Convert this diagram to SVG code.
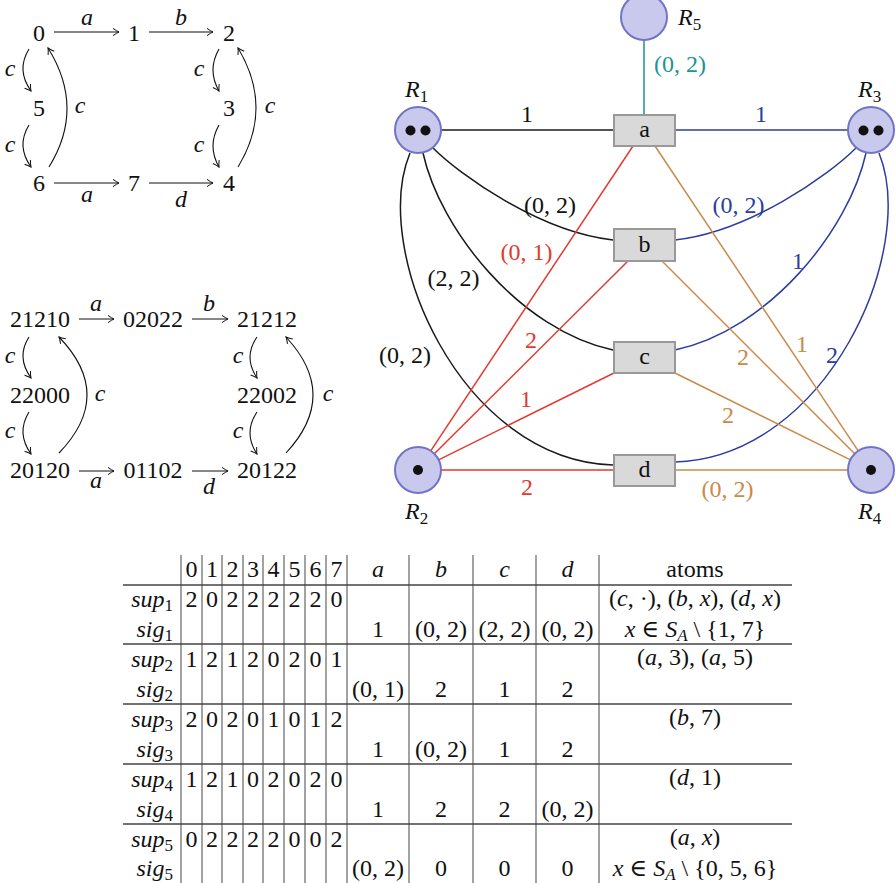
<svg xmlns="http://www.w3.org/2000/svg" width="896" height="883" viewBox="0 0 896 883">
<style>
text{font-family:"Liberation Serif","DejaVu Serif",serif;font-size:24px;fill:#111;text-anchor:middle}
.i{font-style:italic}
.s{font-size:17px}
.ar{fill:none;stroke:#111;stroke-width:1.1}
.nd{fill:#c9c9ee;stroke:#7373c6;stroke-width:2}
.bx{fill:#d9d9d9;stroke:#999;stroke-width:2}
.e{fill:none;stroke-width:1.5}
.k{stroke:#1a1a1a}.r{stroke:#e3392f}.b{stroke:#2c3d9d}.o{stroke:#c98a4a}.t{stroke:#1a9595}
.kr{fill:#e3392f}.kb{fill:#2c3d9d}.ko{fill:#c98a4a}.kt{fill:#1a9595}
.vl{stroke:#666;stroke-width:1.2}
.hl{stroke:#444;stroke-width:1.3}
</style>
<defs>
<marker id="ah" viewBox="-8 -5 10 10" refX="0" refY="0" markerWidth="10" markerHeight="10" markerUnits="userSpaceOnUse" orient="auto">
<path d="M-6,-3.6 Q-2,-0.8 0,0 Q-2,0.8 -6,3.6" fill="none" stroke="#111" stroke-width="1"/>
</marker>
</defs>

<!-- Top-left graph -->
<g id="g1-nodes">
<g id="n0"><text x="39" y="40.5">0</text></g>
<g id="n1"><text x="134" y="40.5">1</text></g>
<g id="n2"><text x="229" y="40.5">2</text></g>
<g id="n5"><text x="39" y="116">5</text></g>
<g id="n3"><text x="229" y="116">3</text></g>
<g id="n6"><text x="39" y="190.5">6</text></g>
<g id="n7"><text x="134" y="190.5">7</text></g>
<g id="n4"><text x="229" y="190.5">4</text></g>
</g>
<g id="g1-edges">
<path class="ar" d="M54,32 H119" marker-end="url(#ah)"/>
<path class="ar" d="M149,32 H213" marker-end="url(#ah)"/>
<path class="ar" d="M54,183 H119" marker-end="url(#ah)"/>
<path class="ar" d="M149,183 H213" marker-end="url(#ah)"/>
<path class="ar" d="M29,49 Q16,70 31,91" marker-end="url(#ah)"/>
<path class="ar" d="M29,125 Q16,146 31,167" marker-end="url(#ah)"/>
<path class="ar" d="M49,167 Q85.5,108 48,48" marker-end="url(#ah)"/>
<path class="ar" d="M219,49 Q207,70 219,91" marker-end="url(#ah)"/>
<path class="ar" d="M219,125 Q207,146 219,167" marker-end="url(#ah)"/>
<path class="ar" d="M238,167 Q274,108 238,48" marker-end="url(#ah)"/>
<text class="i" x="87" y="25">a</text>
<text class="i" x="181" y="25">b</text>
<text class="i" x="87" y="202">a</text>
<text class="i" x="181" y="207">d</text>
<text class="i" x="10" y="76">c</text>
<text class="i" x="10" y="152">c</text>
<text class="i" x="80" y="113">c</text>
<text class="i" x="199" y="76">c</text>
<text class="i" x="199" y="152">c</text>
<text class="i" x="270" y="113">c</text>
</g>

<!-- Middle-left graph -->
<g id="g2-nodes">
<g id="m21210"><text x="40" y="326.5">21210</text></g>
<g id="m02022"><text x="153" y="326.5">02022</text></g>
<g id="m21212"><text x="267" y="326.5">21212</text></g>
<g id="m22000"><text x="40" y="402.5">22000</text></g>
<g id="m22002"><text x="267" y="402.5">22002</text></g>
<g id="m20120"><text x="40" y="478">20120</text></g>
<g id="m01102"><text x="153" y="478">01102</text></g>
<g id="m20122"><text x="267" y="478">20122</text></g>
</g>
<g id="g2-edges">
<path class="ar" d="M79,319 H114" marker-end="url(#ah)"/>
<path class="ar" d="M192,319 H228" marker-end="url(#ah)"/>
<path class="ar" d="M79,471 H114" marker-end="url(#ah)"/>
<path class="ar" d="M192,471 H228" marker-end="url(#ah)"/>
<path class="ar" d="M29,337 Q16,357 31,378" marker-end="url(#ah)"/>
<path class="ar" d="M29,412 Q16,433 31,454" marker-end="url(#ah)"/>
<path class="ar" d="M59,453 Q115,395 59,337" marker-end="url(#ah)"/>
<path class="ar" d="M257,337 Q243,357 257,378" marker-end="url(#ah)"/>
<path class="ar" d="M257,412 Q243,433 257,454" marker-end="url(#ah)"/>
<path class="ar" d="M286,453 Q340,395 286,337" marker-end="url(#ah)"/>
<text class="i" x="96" y="311">a</text>
<text class="i" x="209" y="311">b</text>
<text class="i" x="96" y="488">a</text>
<text class="i" x="209" y="494">d</text>
<text class="i" x="10" y="363">c</text>
<text class="i" x="10" y="438">c</text>
<text class="i" x="100" y="401">c</text>
<text class="i" x="238" y="363">c</text>
<text class="i" x="238" y="438">c</text>
<text class="i" x="328" y="401">c</text>
</g>

<!-- Right graph: connectors -->
<g id="connectors">
<path class="e t" d="M644,40 V115"/>
<path class="e k" d="M441,130 H613"/>
<path class="e b" d="M675,130 H848"/>
<path class="e k" d="M433,148 C460,175 540,232 613,240"/>
<path class="e b" d="M675,240 C749,232 829,175 856,148"/>
<path class="e k" d="M423,153 C440,230 520,330 613,350"/>
<path class="e b" d="M675,350 C769,330 849,230 866,153"/>
<path class="e k" d="M410,153 C370,250 460,460 613,465"/>
<path class="e b" d="M675,462 C828,457 918,250 879,153"/>
<path class="e r" d="M430.7,450.8 L633,146"/>
<path class="e r" d="M434.3,453.8 L628,261"/>
<path class="e r" d="M438.6,459.8 L614,373"/>
<path class="e r" d="M441,470 H613"/>
<path class="e o" d="M655,146 L858.2,450.9"/>
<path class="e o" d="M662,261 L854.7,453.7"/>
<path class="e o" d="M675,373 L850.4,459.8"/>
<path class="e o" d="M675,470 H848"/>
<text class="kt" x="680" y="72">(0, 2)</text>
<text x="527" y="122">1</text>
<text class="kb" x="761" y="122">1</text>
<text x="550" y="213">(0, 2)</text>
<text class="kb" x="738.5" y="213">(0, 2)</text>
<text class="kr" x="526.5" y="260">(0, 1)</text>
<text x="453.5" y="286">(2, 2)</text>
<text x="405" y="363">(0, 2)</text>
<text class="kr" x="531" y="348">2</text>
<text class="kr" x="526" y="407">1</text>
<text class="kr" x="527" y="495">2</text>
<text class="kb" x="798" y="269">1</text>
<text class="kb" x="832" y="363">2</text>
<text class="ko" x="802" y="352">1</text>
<text class="ko" x="743" y="365">2</text>
<text class="ko" x="728" y="423">2</text>
<text class="ko" x="727.5" y="497">(0, 2)</text>
</g>

<!-- Right graph: nodes -->
<g id="R5"><circle class="nd" cx="644" cy="17" r="23"/><text class="i" x="678" y="25" style="text-anchor:start">R<tspan class="s" dy="5" style="font-style:normal">5</tspan></text></g>
<g id="R1"><circle class="nd" cx="418" cy="130" r="23"/><circle cx="410.5" cy="130.5" r="5" fill="#111"/><circle cx="425.5" cy="130.5" r="5" fill="#111"/><text class="i" x="405" y="97" style="text-anchor:start">R<tspan class="s" dy="5" style="font-style:normal">1</tspan></text></g>
<g id="R3"><circle class="nd" cx="871" cy="130" r="23"/><circle cx="863.5" cy="130.5" r="5" fill="#111"/><circle cx="878.5" cy="130.5" r="5" fill="#111"/><text class="i" x="858" y="97" style="text-anchor:start">R<tspan class="s" dy="5" style="font-style:normal">3</tspan></text></g>
<g id="R2"><circle class="nd" cx="418" cy="470" r="23"/><circle cx="418" cy="470" r="5" fill="#111"/><text class="i" x="405" y="519" style="text-anchor:start">R<tspan class="s" dy="5" style="font-style:normal">2</tspan></text></g>
<g id="R4"><circle class="nd" cx="871" cy="470" r="23"/><circle cx="871" cy="470" r="5" fill="#111"/><text class="i" x="858" y="519" style="text-anchor:start">R<tspan class="s" dy="5" style="font-style:normal">4</tspan></text></g>
<g id="ta"><rect class="bx" x="614" y="115" width="61" height="31"/><text x="644.5" y="137">a</text></g>
<g id="tb"><rect class="bx" x="614" y="229" width="61" height="32"/><text x="644.5" y="252">b</text></g>
<g id="tc"><rect class="bx" x="614" y="342" width="61" height="31"/><text x="644.5" y="364">c</text></g>
<g id="td"><rect class="bx" x="614" y="455" width="61" height="31"/><text x="644.5" y="477">d</text></g>

<!-- Table -->
<g id="table">
<g id="grid">
<path class="vl" d="M181,555V883M202,555V883M222,555V883M243,555V883M263,555V883M284,555V883M305,555V883M326,555V883M347,555V883M409,555V883M473,555V883M536,555V883M599,555V883"/>
<path class="hl" d="M123,585H792M123,644H792M123,704H792M123,764H792M123,824H792"/>
</g>
<g id="header">
<text x="191.5" y="577">0</text><text x="212" y="577">1</text><text x="232.5" y="577">2</text><text x="253" y="577">3</text><text x="273.5" y="577">4</text><text x="294.5" y="577">5</text><text x="315.5" y="577">6</text><text x="336.5" y="577">7</text>
<text class="i" x="378" y="577">a</text><text class="i" x="441" y="577">b</text><text class="i" x="504.5" y="577">c</text><text class="i" x="567.5" y="577">d</text>
<text x="695" y="577">atoms</text>
</g>
<g id="labels">
<text class="i" x="173" y="607" style="text-anchor:end">sup<tspan class="s" dy="4" style="font-style:normal">1</tspan></text>
<text class="i" x="173" y="637" style="text-anchor:end">sig<tspan class="s" dy="4" style="font-style:normal">1</tspan></text>
<text class="i" x="173" y="667" style="text-anchor:end">sup<tspan class="s" dy="4" style="font-style:normal">2</tspan></text>
<text class="i" x="173" y="697" style="text-anchor:end">sig<tspan class="s" dy="4" style="font-style:normal">2</tspan></text>
<text class="i" x="173" y="727" style="text-anchor:end">sup<tspan class="s" dy="4" style="font-style:normal">3</tspan></text>
<text class="i" x="173" y="757" style="text-anchor:end">sig<tspan class="s" dy="4" style="font-style:normal">3</tspan></text>
<text class="i" x="173" y="787" style="text-anchor:end">sup<tspan class="s" dy="4" style="font-style:normal">4</tspan></text>
<text class="i" x="173" y="817" style="text-anchor:end">sig<tspan class="s" dy="4" style="font-style:normal">4</tspan></text>
<text class="i" x="173" y="847" style="text-anchor:end">sup<tspan class="s" dy="4" style="font-style:normal">5</tspan></text>
<text class="i" x="173" y="876" style="text-anchor:end">sig<tspan class="s" dy="4" style="font-style:normal">5</tspan></text>
</g>
<g id="sup-values">
<text x="191.5" y="607">2</text><text x="212" y="607">0</text><text x="232.5" y="607">2</text><text x="253" y="607">2</text><text x="273.5" y="607">2</text><text x="294.5" y="607">2</text><text x="315.5" y="607">2</text><text x="336.5" y="607">0</text>
<text x="191.5" y="667">1</text><text x="212" y="667">2</text><text x="232.5" y="667">1</text><text x="253" y="667">2</text><text x="273.5" y="667">0</text><text x="294.5" y="667">2</text><text x="315.5" y="667">0</text><text x="336.5" y="667">1</text>
<text x="191.5" y="727">2</text><text x="212" y="727">0</text><text x="232.5" y="727">2</text><text x="253" y="727">0</text><text x="273.5" y="727">1</text><text x="294.5" y="727">0</text><text x="315.5" y="727">1</text><text x="336.5" y="727">2</text>
<text x="191.5" y="787">1</text><text x="212" y="787">2</text><text x="232.5" y="787">1</text><text x="253" y="787">0</text><text x="273.5" y="787">2</text><text x="294.5" y="787">0</text><text x="315.5" y="787">2</text><text x="336.5" y="787">0</text>
<text x="191.5" y="847">0</text><text x="212" y="847">2</text><text x="232.5" y="847">2</text><text x="253" y="847">2</text><text x="273.5" y="847">2</text><text x="294.5" y="847">0</text><text x="315.5" y="847">0</text><text x="336.5" y="847">2</text>
</g>
<g id="sig-values">
<text x="378" y="637">1</text><text x="441" y="637">(0, 2)</text><text x="504.5" y="637">(2, 2)</text><text x="567.5" y="637">(0, 2)</text>
<text x="378" y="697">(0, 1)</text><text x="441" y="697">2</text><text x="504.5" y="697">1</text><text x="567.5" y="697">2</text>
<text x="378" y="757">1</text><text x="441" y="757">(0, 2)</text><text x="504.5" y="757">1</text><text x="567.5" y="757">2</text>
<text x="378" y="817">1</text><text x="441" y="817">2</text><text x="504.5" y="817">2</text><text x="567.5" y="817">(0, 2)</text>
<text x="378" y="876">(0, 2)</text><text x="441" y="876">0</text><text x="504.5" y="876">0</text><text x="567.5" y="876">0</text>
</g>
<g id="atoms">
<text x="695" y="606">(<tspan class="i">c</tspan>, ·), (<tspan class="i">b</tspan>, <tspan class="i">x</tspan>), (<tspan class="i">d</tspan>, <tspan class="i">x</tspan>)</text>
<text x="695" y="637"><tspan class="i">x</tspan> ∈ <tspan class="i">S</tspan><tspan class="s i" dy="4">A</tspan><tspan dy="-4"> \ {1, 7}</tspan></text>
<text x="695" y="665">(<tspan class="i">a</tspan>, 3), (<tspan class="i">a</tspan>, 5)</text>
<text x="695" y="725">(<tspan class="i">b</tspan>, 7)</text>
<text x="695" y="785">(<tspan class="i">d</tspan>, 1)</text>
<text x="695" y="845">(<tspan class="i">a</tspan>, <tspan class="i">x</tspan>)</text>
<text x="695" y="876"><tspan class="i">x</tspan> ∈ <tspan class="i">S</tspan><tspan class="s i" dy="4">A</tspan><tspan dy="-4"> \ {0, 5, 6}</tspan></text>
</g>
</g>
</svg>
